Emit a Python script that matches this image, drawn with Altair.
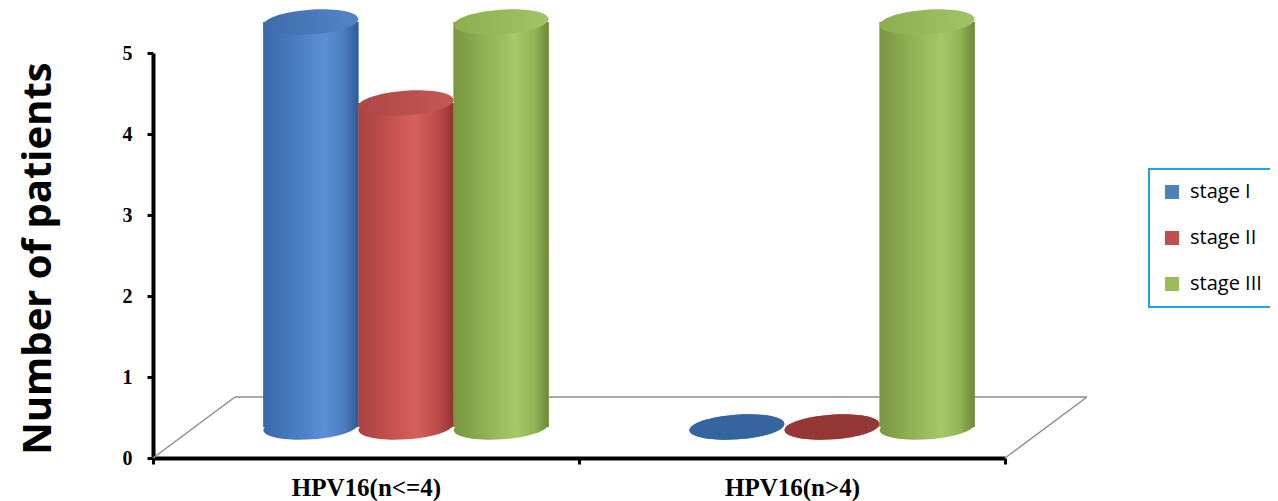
import altair as alt
import pandas as pd

# ---------------- data ----------------
groups = ["HPV16(n<=4)", "HPV16(n>4)"]
stages = ["stage I", "stage II", "stage III"]
stage_I = [5, 0]
stage_II = [4, 0]
stage_III = [5, 5]
y_ticks = [0, 1, 2, 3, 4, 5]

rows = []
for s, vals in zip(stages, [stage_I, stage_II, stage_III]):
    for g, v in zip(groups, vals):
        rows.append({"group": g, "stage": s, "value": v})
df = pd.DataFrame(rows)

# ---------------- style ----------------
W, H = 852, 405
PAD_INNER, PAD_OUTER = 0.33, 0.165
STEP = W / 2
BAR_W = STEP * (1 - PAD_INNER) / 3
BX, BY = 40, -31          # 3D depth offset of the cylinders
DX, DY = 82, 61           # depth of the floor
ALIGN = (BX + PAD_OUTER * STEP) / (2 * PAD_OUTER * STEP)
ANG = 356
ELLIPSE = ("M -1 0 C -1 -0.1436 -0.5523 -0.26 0 -0.26 C 0.5523 -0.26 1 -0.1436 1 0 "
           "C 1 0.1436 0.5523 0.26 0 0.26 C -0.5523 0.26 -1 0.1436 -1 0 Z")

flat_colors = ["#4f81bd", "#c0504d", "#9bbb59"]


def grad(stops):
    return {"gradient": "linear", "x1": 0, "y1": 0, "x2": 1, "y2": 0,
            "stops": [{"offset": o, "color": c} for o, c in stops]}


body = [
    grad([(0, "#3a69a8"), (0.35, "#4a7dc4"), (0.65, "#5b8fd6"), (0.85, "#4a7cc0"), (1, "#2f5b94")]),
    grad([(0, "#a84240"), (0.35, "#c6524f"), (0.6, "#d6605d"), (0.85, "#b94a48"), (1, "#933331")]),
    grad([(0, "#7a973f"), (0.35, "#90b254"), (0.65, "#a5c967"), (0.85, "#91b255"), (1, "#6d8936")]),
]
caps = [
    grad([(0, "#3d6cab"), (1, "#5285c8")]),
    grad([(0, "#ad4745"), (1, "#c45855")]),
    grad([(0, "#8cae50"), (1, "#a2c464")]),
]
zero_caps = ["#35659f", "#953735", "#7e9c42"]

axis_x = alt.Axis(title=None, labelAngle=0, labelFont="Liberation Serif", labelFontSize=25,
                  labelFontWeight="bold", labelColor="black", labelPadding=11,
                  tickBand="extent", tickSize=6, tickWidth=3, tickColor="black",
                  domainColor="black", domainWidth=4, grid=False)
axis_y = alt.Axis(values=y_ticks, title="Number of patients", titleFont="Open Sans",
                  titleFontSize=40, titleFontWeight="bold", titleColor="black",
                  titleAngle=270, titleAlign="center", titleBaseline="middle",
                  titleX=-115, titleY=205,
                  labelFont="Liberation Serif", labelFontSize=20, labelFontWeight="bold",
                  labelColor="black", labelPadding=15, tickSize=6, tickWidth=3,
                  tickColor="black", domainColor="black", domainWidth=4, grid=False,
                  format="d")

# x scale for the front plane (axis) and for the cylinders (shifted into depth)
x_axis_enc = alt.X("group:N", sort=groups, axis=axis_x,
                   scale=alt.Scale(paddingInner=0, paddingOuter=0))
x_enc = alt.X("group:N", sort=groups, axis=None,
              scale=alt.Scale(type="band", paddingInner=PAD_INNER, paddingOuter=PAD_OUTER,
                              align=ALIGN))
xo_enc = alt.XOffset("stage:N", sort=stages,
                     scale=alt.Scale(type="band", domain=stages, paddingInner=0,
                                     paddingOuter=0))
y_scale = alt.Scale(domain=[0, 5], nice=False)


def Y(field):
    return alt.Y(field, scale=y_scale, axis=axis_y)


base = alt.Chart(df).transform_calculate(zero="0")

# axis carrier (invisible)
axis_layer = base.mark_point(opacity=0).encode(x=x_axis_enc, y=Y("zero:Q"))

# floor (grey parallelogram) anchored on y = 0
floor_df = pd.DataFrame({"zero": [0]})
floor_style = dict(color="#8c8c8c", strokeWidth=1.5)
floor_back = alt.Chart(floor_df).mark_rule(yOffset=-DY, **floor_style).encode(
    x=alt.value(DX), x2=alt.value(W + DX), y=Y("zero:Q"))
floor_left = alt.Chart(floor_df).mark_rule(**floor_style).encode(
    x=alt.value(0), x2=alt.value(DX), y=Y("zero:Q"), y2=alt.value(H - DY))
floor_right = alt.Chart(floor_df).mark_rule(**floor_style).encode(
    x=alt.value(W), x2=alt.value(W + DX), y=Y("zero:Q"), y2=alt.value(H - DY))

# flat bars carry the legend
flat = base.mark_bar(yOffset=BY, y2Offset=BY).encode(
    x=x_enc, xOffset=xo_enc, y=Y("value:Q"), y2="zero:Q",
    color=alt.Color("stage:N", sort=stages,
                    scale=alt.Scale(domain=stages, range=flat_colors),
                    legend=alt.Legend(title=None, orient="none", legendX=996, legendY=116,
                                      symbolType="square", symbolSize=196,
                                      symbolStrokeWidth=0, labelFont="Open Sans",
                                      labelFontSize=20, labelColor="black", labelOffset=8,
                                      rowPadding=26, padding=13, strokeColor="#1aa6de",
                                      fillColor="white")),
)

layers = [axis_layer, floor_back, floor_left, floor_right, flat]
for i, s in enumerate(stages):
    sub = base.transform_filter(alt.datum.stage == s)
    bottom = sub.mark_point(shape=ELLIPSE, size=BAR_W ** 2, filled=True, opacity=1,
                            strokeWidth=0, fill=body[i], angle=ANG, yOffset=BY).encode(
        x=x_enc, xOffset=xo_enc, y=Y("zero:Q"))
    bar = sub.mark_bar(fill=body[i], yOffset=BY, y2Offset=BY).encode(
        x=x_enc, xOffset=xo_enc, y=Y("value:Q"), y2="zero:Q")
    top = sub.mark_point(shape=ELLIPSE, size=BAR_W ** 2, filled=True, opacity=1,
                         strokeWidth=0, angle=ANG, yOffset=BY).encode(
        x=x_enc, xOffset=xo_enc, y=Y("value:Q"),
        fill=alt.condition("datum.value == 0", alt.value(zero_caps[i]), alt.value(caps[i])))
    layers += [bottom, bar, top]

chart = alt.layer(*layers).resolve_scale(
    x="independent", xOffset="independent"
).properties(
    width=W, height=H,
    padding={"left": 145, "top": 45, "right": 265, "bottom": 43},
    autosize="none",
    background="white",
).configure_view(stroke=None).configure_legend(strokeWidth=2)

chart.save("out.html", embed_options={"renderer": "svg", "actions": False})
